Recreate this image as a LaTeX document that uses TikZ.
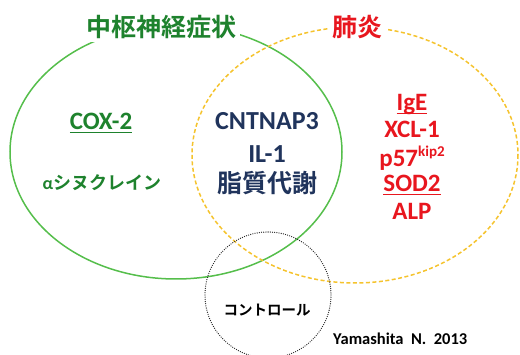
\documentclass[tikz,border=0pt]{standalone}
\usepackage{fontspec}
\setmainfont{Carlito}
\newfontfamily\jp{Noto Sans CJK JP}[BoldFont={Noto Sans CJK JP Bold}]
\definecolor{gline}{RGB}{85,190,75}
\definecolor{gtext}{RGB}{30,130,45}
\definecolor{yline}{RGB}{245,195,45}
\definecolor{rtext}{RGB}{232,22,30}
\definecolor{ntext}{RGB}{32,52,92}
\newcommand{\ulmark}[2]{\setbox0\hbox{#2}\rlap{\color{#1}\rule[-3.5pt]{\wd0}{1.6pt}}\box0}
\tikzset{
  lbl/.style={anchor=base, inner sep=0pt, font=\bfseries},
  ttl/.style={fill=white, inner xsep=4pt, inner ysep=3pt, font=\jp\bfseries\fontsize{25}{25}\selectfont},
}
\begin{document}
\begin{tikzpicture}[x=1pt,y=-1pt]
\useasboundingbox (0,0) rectangle (520,355);
% ellipses
\draw[gline, line width=1.5pt] (176,152) ellipse [x radius=166, y radius=127];
\draw[yline, line width=1.5pt, dash pattern=on 4pt off 2.5pt] (355,155) ellipse [x radius=163, y radius=128];
\draw[black!85, line width=1.3pt, dash pattern=on 0pt off 2.2pt, line cap=round] (268,295) circle [radius=63];
% titles
\node[ttl, text=gtext] (t1) at (161,27) {中枢神経症状};
\node[ttl, text=rtext] (t2) at (357,27) {肺炎};
% green region
\node[lbl, text=gtext, font=\bfseries\fontsize{25}{25}\selectfont] (cox) at (101,130) {\ulmark{gtext}{COX-2}};
\node[lbl, text=gtext, font=\bfseries\fontsize{18}{18}\selectfont] (syn) at (102,190) {α{\jp\bfseries シヌクレイン}};
% center
\node[lbl, text=ntext, font=\bfseries\fontsize{26}{26}\selectfont] (cnt) at (267,130) {CNTNAP3};
\node[lbl, text=ntext, font=\bfseries\fontsize{26}{26}\selectfont] (il) at (267,163) {IL-1};
\node[lbl, text=ntext, font=\jp\bfseries\fontsize{25}{25}\selectfont] (lip) at (267,193) {脂質代謝};
% red
\node[lbl, text=rtext, font=\bfseries\fontsize{25}{25}\selectfont] (ige) at (412,111) {\ulmark{rtext}{IgE}};
\node[lbl, text=rtext, font=\bfseries\fontsize{25}{25}\selectfont] (xcl) at (412,138) {XCL-1};
\node[lbl, text=rtext, font=\bfseries\fontsize{25}{25}\selectfont] (p57) at (412,167) {p57\raisebox{0.42em}{\fontsize{15}{15}\selectfont kip2}};
\node[lbl, text=rtext, font=\bfseries\fontsize{25}{25}\selectfont] (sod) at (412,192) {\ulmark{rtext}{SOD2}};
\node[lbl, text=rtext, font=\bfseries\fontsize{25}{25}\selectfont] (alp) at (412,220) {ALP};
% control
\node[lbl, text=black, font=\jp\bfseries\fontsize{14.5}{14.5}\selectfont] (ctl) at (267,316) {コントロール};
% citation
\node[lbl, anchor=base west, text=black, font=\bfseries\fontsize{16.5}{16.5}\selectfont] (cite) at (333,345) {Yamashita\ \ N.\ \ 2013};
\end{tikzpicture}
\end{document}
